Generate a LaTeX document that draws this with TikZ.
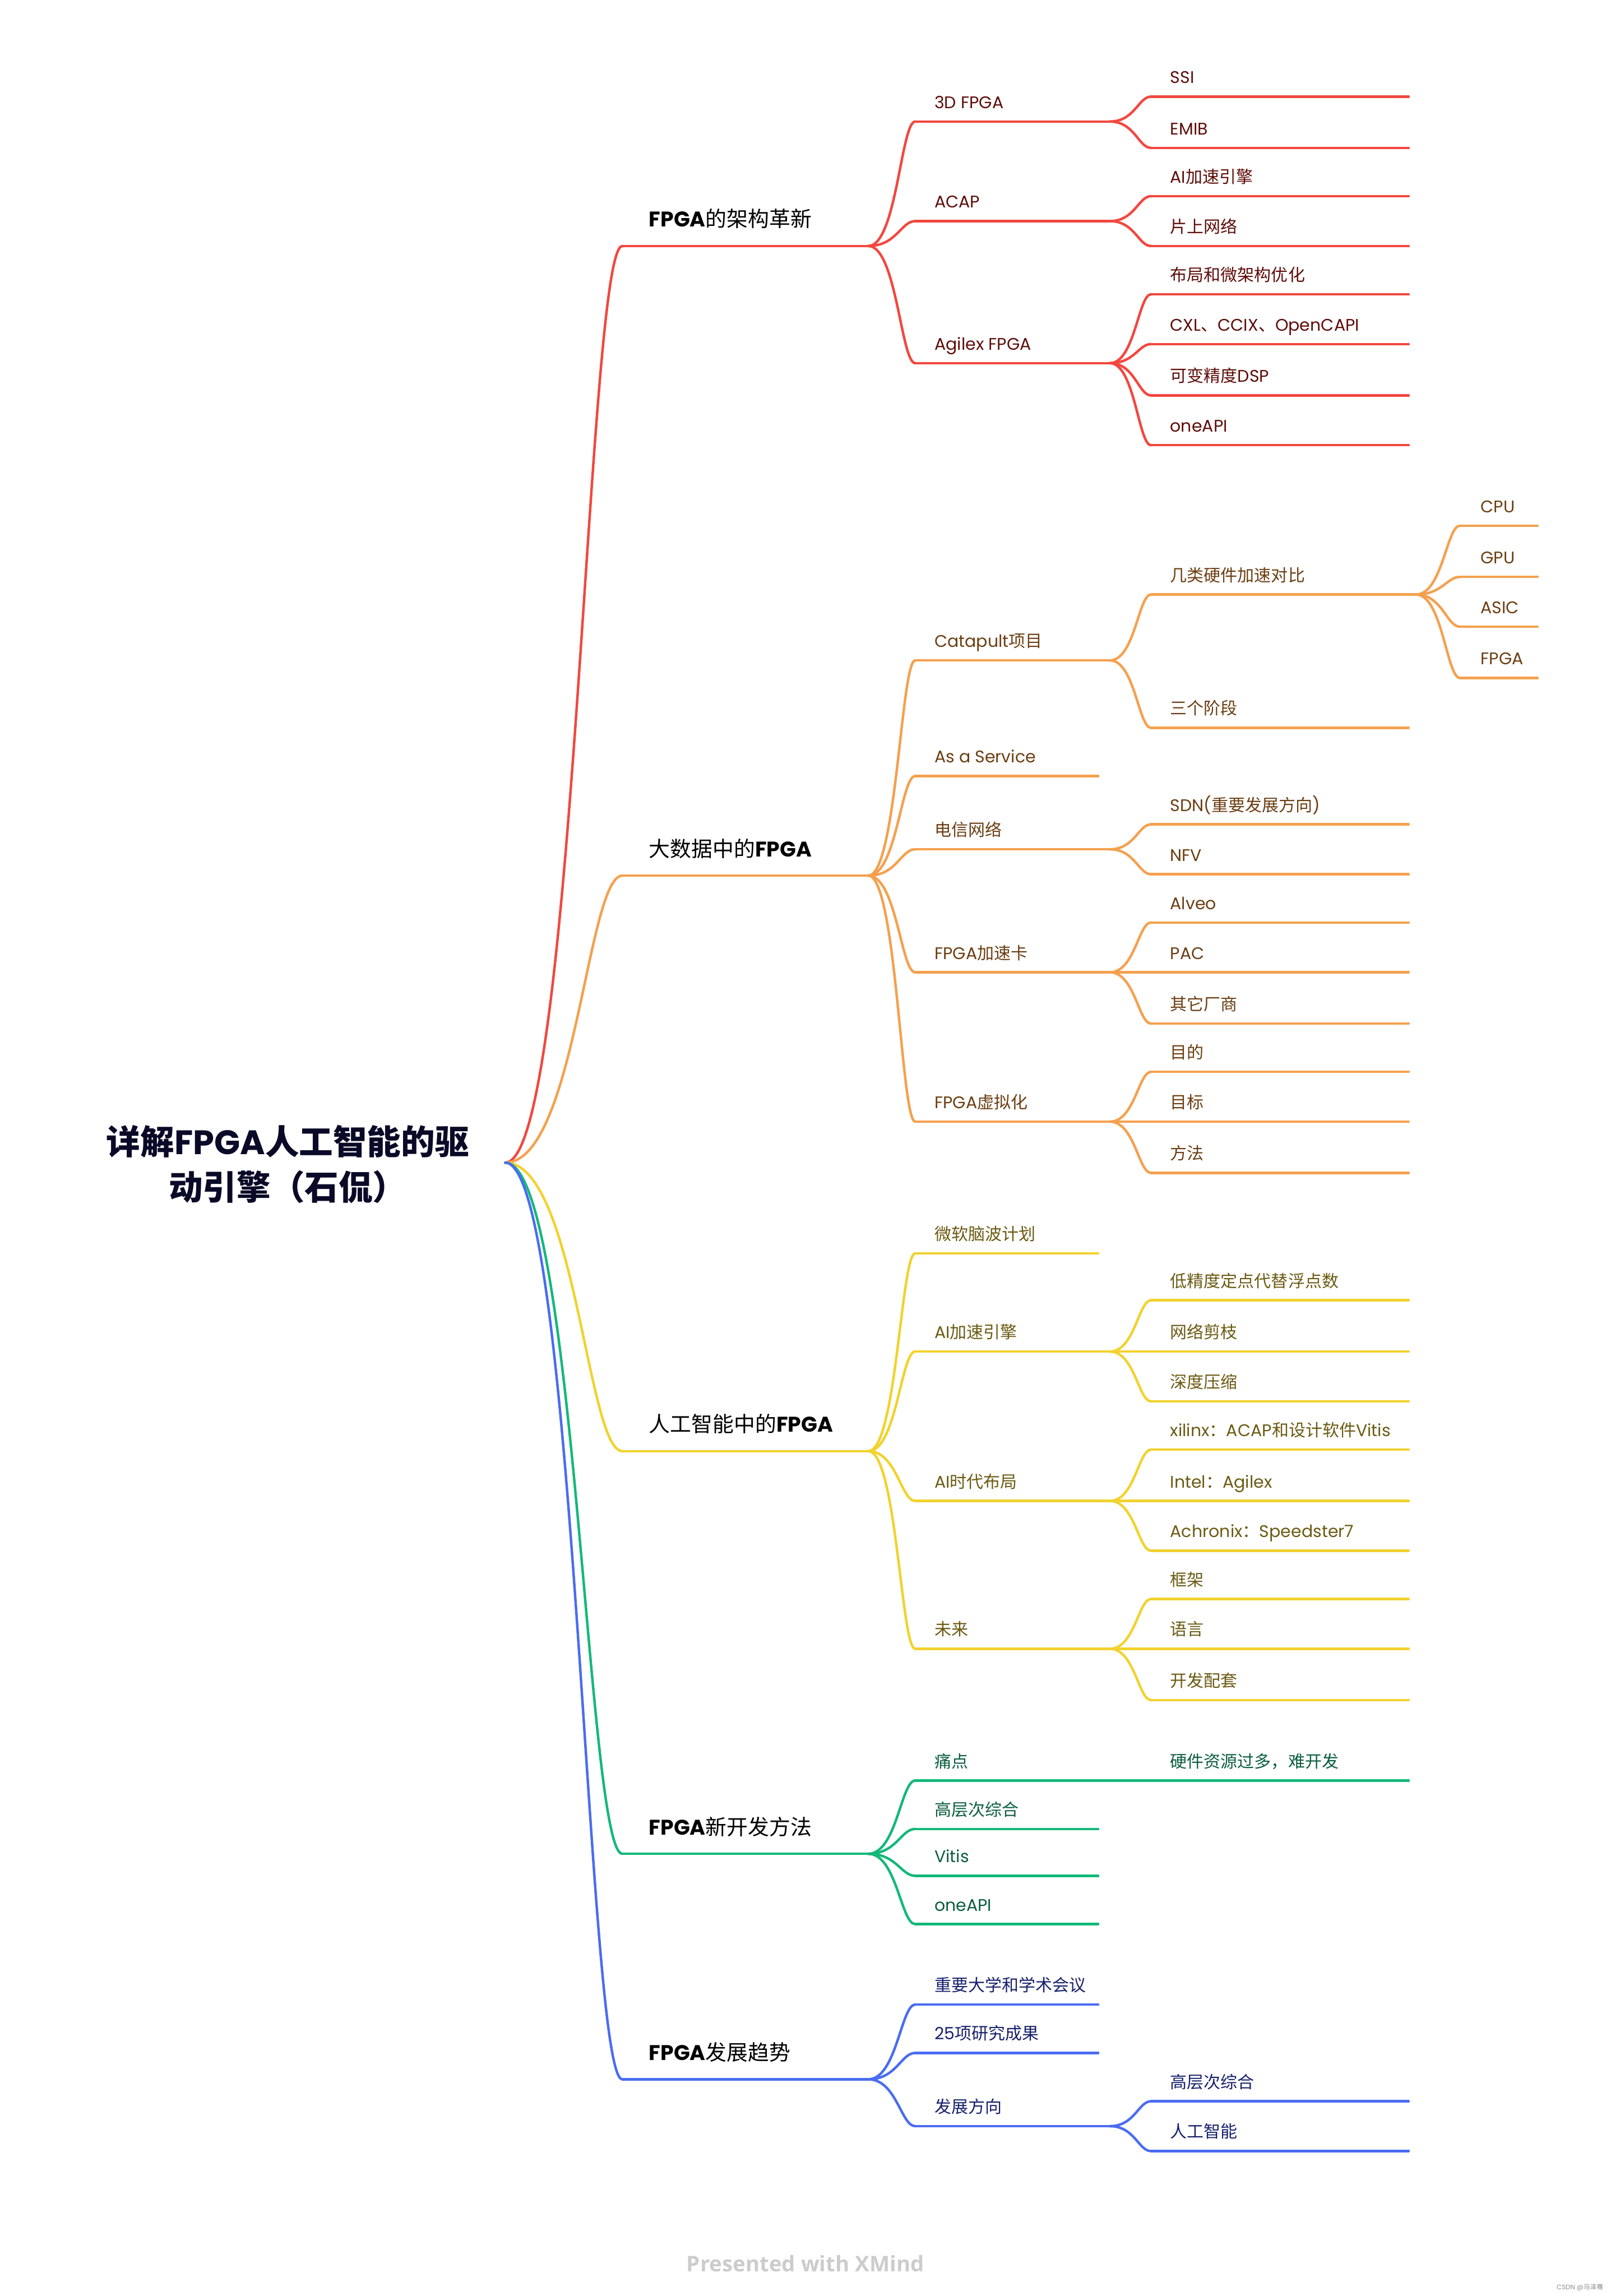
\documentclass[tikz,border=0pt]{standalone}
\usepackage{fontspec}
\setmainfont{Poppins}
\newfontfamily\cjk{Noto Sans CJK SC}
\newfontfamily\footfont{Open Sans}
\newcommand\C[1]{{\cjk #1}}
\usetikzlibrary{calc}
\definecolor{redL}{HTML}{F2473F}
\definecolor{redT}{HTML}{5E0C08}
\definecolor{orL}{HTML}{F5A04E}
\definecolor{orT}{HTML}{6B3E12}
\definecolor{yeL}{HTML}{F2D22E}
\definecolor{yeT}{HTML}{6B5A12}
\definecolor{grL}{HTML}{14B87A}
\definecolor{grT}{HTML}{0B5E3E}
\definecolor{blL}{HTML}{4A6CF2}
\definecolor{blT}{HTML}{17206B}
\definecolor{rootT}{HTML}{0A0A28}
\tikzset{
 lab/.style={anchor=base west, inner sep=0pt, font=\fontsize{11.5}{13}\selectfont},
 mainlab/.style={anchor=base west, inner sep=0pt, font=\fontsize{14.5}{16}\selectfont, text=black},
 ln/.style={line width=1.7pt, line cap=round},
}
\newcommand\mm[8]{%
 \coordinate (#1-s) at (#2,#4);
 \coordinate (#1-e) at (#3,#4);
 \draw[ln,draw=#7L] (#1-s) -- (#1-e);
 \node[lab,text=#7T] (#1) at (#5,#4-#6) {#8};}
\newcommand\Lone[4]{%
 \coordinate (#1-s) at (425,#2);
 \coordinate (#1-e) at (593,#2);
 \draw[ln,draw=#3L] (#1-s) -- (#1-e);
 \node[mainlab] (#1) at (443,#2-13) {#4};}
\newcommand\Ltwo[5]{\mm{#1}{625}{#5}{#2}{638}{9}{#3}{#4}}
\newcommand\Lthree[5]{\mm{#1}{786}{#5}{#2}{799}{9}{#3}{#4}}
\newcommand\Lfour[4]{\mm{#1}{997}{1050}{#2}{1011}{9}{#3}{#4}}
\newcommand\conn[3]{\draw[ln,draw=#1L] let \p1=(#2), \p2=(#3) in (\p1) .. controls ({\x1+0.6*(\x2-\x1)},\y1) and ({\x2-0.3*(\x2-\x1)},\y2) .. (\p2);}
\begin{document}
\begin{tikzpicture}[x=1pt,y=-1pt]
\useasboundingbox (0,0) rectangle (1100,1568);
\fill[white] (0,0) rectangle (1100,1568);
% root
\node[font=\fontsize{23.2}{31}\selectfont\bfseries, text=rootT, align=center, inner sep=0pt] (root) at (196.5,795) {\C{详解}FPGA\C{人工智能的驱}\\\C{动引擎（石侃）}};
\coordinate (root-o) at (345,794);
% ---------- red
\Lone{r}{168}{red}{\textbf{FPGA}\C{的架构革新}}
\Ltwo{r1}{83}{red}{3D FPGA}{758}
\Ltwo{r2}{151}{red}{ACAP}{758}
\Ltwo{r3}{248}{red}{Agilex FPGA}{758}
\Lthree{r1a}{66}{red}{SSI}{962}
\Lthree{r1b}{101}{red}{EMIB}{962}
\Lthree{r2a}{134}{red}{AI\C{加速引擎}}{962}
\Lthree{r2b}{168}{red}{\C{片上网络}}{962}
\Lthree{r3a}{201}{red}{\C{布局和微架构优化}}{962}
\Lthree{r3b}{235}{red}{CXL\C{、}CCIX\C{、}OpenCAPI}{962}
\Lthree{r3c}{270}{red}{\C{可变精度}DSP}{962}
\Lthree{r3d}{304}{red}{oneAPI}{962}
\conn{red}{root-o}{r-s}
\conn{red}{r-e}{r1-s}\conn{red}{r-e}{r2-s}\conn{red}{r-e}{r3-s}
\conn{red}{r1-e}{r1a-s}\conn{red}{r1-e}{r1b-s}
\conn{red}{r2-e}{r2a-s}\conn{red}{r2-e}{r2b-s}
\conn{red}{r3-e}{r3a-s}\conn{red}{r3-e}{r3b-s}\conn{red}{r3-e}{r3c-s}\conn{red}{r3-e}{r3d-s}
% ---------- orange
\Lone{o}{598}{or}{\C{大数据中的}\textbf{FPGA}}
\Ltwo{o1}{451}{or}{Catapult\C{项目}}{758}
\Ltwo{o2}{530}{or}{As a Service}{750}
\Ltwo{o3}{580}{or}{\C{电信网络}}{758}
\Ltwo{o4}{664}{or}{FPGA\C{加速卡}}{758}
\Ltwo{o5}{766}{or}{FPGA\C{虚拟化}}{758}
\Lthree{o1a}{406}{or}{\C{几类硬件加速对比}}{967}
\Lthree{o1b}{497}{or}{\C{三个阶段}}{962}
\Lthree{o3a}{563}{or}{SDN(\C{重要发展方向})}{962}
\Lthree{o3b}{597}{or}{NFV}{962}
\Lthree{o4a}{630}{or}{Alveo}{962}
\Lthree{o4b}{664}{or}{PAC}{962}
\Lthree{o4c}{699}{or}{\C{其它厂商}}{962}
\Lthree{o5a}{732}{or}{\C{目的}}{962}
\Lthree{o5b}{766}{or}{\C{目标}}{962}
\Lthree{o5c}{801}{or}{\C{方法}}{962}
\Lfour{o1a1}{359}{or}{CPU}
\Lfour{o1a2}{394}{or}{GPU}
\Lfour{o1a3}{428}{or}{ASIC}
\Lfour{o1a4}{463}{or}{FPGA}
\conn{or}{root-o}{o-s}
\conn{or}{o-e}{o1-s}\conn{or}{o-e}{o2-s}\conn{or}{o-e}{o3-s}\conn{or}{o-e}{o4-s}\conn{or}{o-e}{o5-s}
\conn{or}{o1-e}{o1a-s}\conn{or}{o1-e}{o1b-s}
\conn{or}{o1a-e}{o1a1-s}\conn{or}{o1a-e}{o1a2-s}\conn{or}{o1a-e}{o1a3-s}\conn{or}{o1a-e}{o1a4-s}
\conn{or}{o3-e}{o3a-s}\conn{or}{o3-e}{o3b-s}
\conn{or}{o4-e}{o4a-s}\conn{or}{o4-e}{o4b-s}\conn{or}{o4-e}{o4c-s}
\conn{or}{o5-e}{o5a-s}\conn{or}{o5-e}{o5b-s}\conn{or}{o5-e}{o5c-s}
% ---------- yellow
\Lone{y}{991}{ye}{\C{人工智能中的}\textbf{FPGA}}
\Ltwo{y1}{856}{ye}{\C{微软脑波计划}}{750}
\Ltwo{y2}{923}{ye}{AI\C{加速引擎}}{758}
\Ltwo{y3}{1025}{ye}{AI\C{时代布局}}{758}
\Ltwo{y4}{1126}{ye}{\C{未来}}{758}
\Lthree{y2a}{888}{ye}{\C{低精度定点代替浮点数}}{962}
\Lthree{y2b}{923}{ye}{\C{网络剪枝}}{962}
\Lthree{y2c}{957}{ye}{\C{深度压缩}}{962}
\Lthree{y3a}{990}{ye}{xilinx\C{：}ACAP\C{和设计软件}Vitis}{962}
\Lthree{y3b}{1025}{ye}{Intel\C{：}Agilex}{962}
\Lthree{y3c}{1059}{ye}{Achronix\C{：}Speedster7}{962}
\Lthree{y4a}{1092}{ye}{\C{框架}}{962}
\Lthree{y4b}{1126}{ye}{\C{语言}}{962}
\Lthree{y4c}{1161}{ye}{\C{开发配套}}{962}
\conn{ye}{root-o}{y-s}
\conn{ye}{y-e}{y1-s}\conn{ye}{y-e}{y2-s}\conn{ye}{y-e}{y3-s}\conn{ye}{y-e}{y4-s}
\conn{ye}{y2-e}{y2a-s}\conn{ye}{y2-e}{y2b-s}\conn{ye}{y2-e}{y2c-s}
\conn{ye}{y3-e}{y3a-s}\conn{ye}{y3-e}{y3b-s}\conn{ye}{y3-e}{y3c-s}
\conn{ye}{y4-e}{y4a-s}\conn{ye}{y4-e}{y4b-s}\conn{ye}{y4-e}{y4c-s}
% ---------- green
\Lone{g}{1266}{gr}{\textbf{FPGA}\C{新开发方法}}
\Ltwo{g1}{1216}{gr}{\C{痛点}}{758}
\Ltwo{g2}{1249}{gr}{\C{高层次综合}}{750}
\Ltwo{g3}{1281}{gr}{Vitis}{750}
\Ltwo{g4}{1314}{gr}{oneAPI}{750}
\Lthree{g1a}{1216}{gr}{\C{硬件资源过多，难开发}}{962}
\conn{gr}{root-o}{g-s}
\conn{gr}{g-e}{g1-s}\conn{gr}{g-e}{g2-s}\conn{gr}{g-e}{g3-s}\conn{gr}{g-e}{g4-s}
\conn{gr}{g1-e}{g1a-s}
% ---------- blue
\Lone{b}{1420}{bl}{\textbf{FPGA}\C{发展趋势}}
\Ltwo{b1}{1369}{bl}{\C{重要大学和学术会议}}{750}
\Ltwo{b2}{1402}{bl}{25\C{项研究成果}}{750}
\Ltwo{b3}{1452}{bl}{\C{发展方向}}{758}
\Lthree{b3a}{1435}{bl}{\C{高层次综合}}{962}
\Lthree{b3b}{1469}{bl}{\C{人工智能}}{962}
\conn{bl}{root-o}{b-s}
\conn{bl}{b-e}{b1-s}\conn{bl}{b-e}{b2-s}\conn{bl}{b-e}{b3-s}
\conn{bl}{b3-e}{b3a-s}\conn{bl}{b3-e}{b3b-s}
% ---------- footer
\node[font=\footfont\bfseries\fontsize{14.7}{16}\selectfont, text=black!20, inner sep=0pt] (foot) at (550,1546) {Presented with XMind};
\node[font=\fontsize{4.5}{5}\selectfont, text=black!45, inner sep=0pt] (wm) at (1079,1562) {CSDN @\C{马泽骞}};
\end{tikzpicture}
\end{document}
